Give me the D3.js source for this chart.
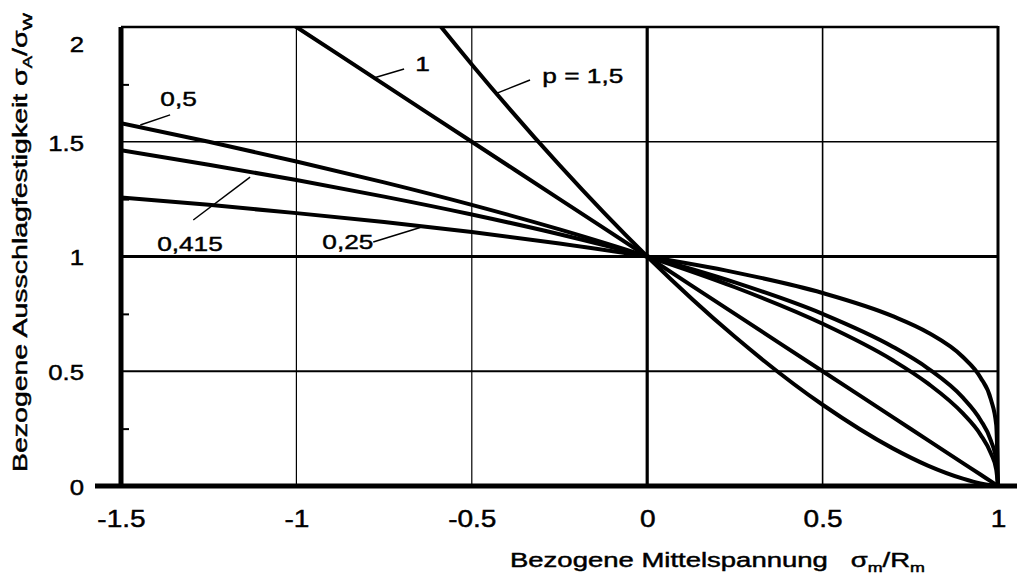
<!DOCTYPE html>
<html>
<head>
<meta charset="utf-8">
<script src="https://cdn.jsdelivr.net/npm/d3@7"></script>
<style>
  html, body { margin: 0; padding: 0; background: #fff; }
  svg { display: block; }
  text { font-family: "Liberation Sans", Arial, Helvetica, sans-serif; fill: #000; stroke: #000; stroke-width: 0.45px; }
</style>
</head>
<body>
<script>
// Relative mean stress sigma_m / R_m (x) and amplitude ratio sigma_A / sigma_W per exponent p
const sigmaM   = [-1.5, -1.25, -1, -0.75, -0.5, -0.25, 0, 0.25, 0.5, 0.7, 0.8, 0.9, 0.95, 0.98, 0.995, 1];
const ampP025  = [1.257, 1.225, 1.189, 1.150, 1.107, 1.057, 1, 0.931, 0.841, 0.740, 0.669, 0.562, 0.473, 0.376, 0.266, 0];
const ampP0415 = [1.463, 1.400, 1.333, 1.261, 1.183, 1.097, 1, 0.887, 0.750, 0.607, 0.513, 0.385, 0.288, 0.197, 0.111, 0];
const ampP05   = [1.581, 1.500, 1.414, 1.323, 1.225, 1.118, 1, 0.866, 0.707, 0.548, 0.447, 0.316, 0.224, 0.141, 0.071, 0];
const ampP1    = [2.5, 2.25, 2, 1.75, 1.5, 1.25, 1, 0.75, 0.5, 0.3, 0.2, 0.1, 0.05, 0.02, 0.005, 0];
const ampP15   = [3.953, 3.375, 2.828, 2.315, 1.837, 1.398, 1, 0.650, 0.354, 0.164, 0.089, 0.032, 0.011, 0.003, 0.0004, 0];

const seriesNames = ["0,25", "0,415", "0,5", "1", "p = 1,5"];
const seriesValues = [ampP025, ampP0415, ampP05, ampP1, ampP15];

const xTicks = [-1.5, -1, -0.5, 0, 0.5, 1];
const xTickLabels = ["-1.5", "-1", "-0.5", "0", "0.5", "1"];
const yTicks = [0, 0.5, 1, 1.5, 2];
const yTickLabels = ["0", "0.5", "1", "1.5", "2"];
const yMinorTicks = [0.25, 0.75, 1.25, 1.75];
const xGrid = [-1, -0.5, 0, 0.5];
const yGrid = [0.5, 1, 1.5];

// Label placement (data coordinates): text anchor, leader start, leader end
const labelLayout = {
  "0,5":     { t: [-1.388, 1.656], a: [-1.445, 1.573], b: [-1.36, 1.617] },
  "0,415":   { t: [-1.397, 1.024], a: [-1.294, 1.159], b: [-1.132, 1.346] },
  "0,25":    { t: [-0.926, 1.033], a: [-0.781, 1.063], b: [-0.647, 1.126] },
  "1":       { t: [-0.661, 1.808], a: [-0.775, 1.780], b: [-0.693, 1.817] },
  "p = 1,5": { t: [-0.299, 1.756], a: [-0.428, 1.712], b: [-0.334, 1.769] }
};

const W = 1017, H = 581;
const svg = d3.select("body").append("svg").attr("width", W).attr("height", H);

const x = d3.scaleLinear().domain([-1.5, 1]).range([121, 998]);
const y = d3.scaleLinear().domain([0, 2]).range([486, 27]);

const xStretch = 1.22;

// grid
const gx = { "-1": 1.2, "-0.5": 1.2, "0": 3.2, "0.5": 1.6 };
const gy = { "0.5": 2, "1": 3, "1.5": 1.6 };
svg.append("g").selectAll("line").data(xGrid).join("line")
  .attr("x1", d => x(d)).attr("x2", d => x(d))
  .attr("y1", y(0)).attr("y2", y(2))
  .attr("stroke", "#000").attr("stroke-width", d => gx[String(d)]);
svg.append("g").selectAll("line").data(yGrid).join("line")
  .attr("x1", x(-1.5)).attr("x2", x(1))
  .attr("y1", d => y(d)).attr("y2", d => y(d))
  .attr("stroke", "#000").attr("stroke-width", d => gy[String(d)]);

// frame: top and right
svg.append("line").attr("x1", x(-1.5)).attr("x2", x(1)).attr("y1", y(2)).attr("y2", y(2))
  .attr("stroke", "#000").attr("stroke-width", 2.6);
svg.append("line").attr("x1", x(1)).attr("x2", x(1)).attr("y1", y(0)).attr("y2", y(2) - 1)
  .attr("stroke", "#000").attr("stroke-width", 3);

// curves
svg.append("defs").append("clipPath").attr("id", "plotClip")
  .append("rect").attr("x", x(-1.5)).attr("y", y(2)).attr("width", x(1) - x(-1.5) + 2).attr("height", y(0) - y(2));

const line = d3.line()
  .x((d, i) => x(sigmaM[i]))
  .y(d => y(d))
  .curve(d3.curveMonotoneX);

svg.append("g").attr("clip-path", "url(#plotClip)")
  .selectAll("path").data(seriesValues).join("path")
  .attr("d", d => line(d))
  .attr("fill", "none").attr("stroke", "#000").attr("stroke-width", 4)
  .attr("stroke-linejoin", "round");

// axes lines (thick)
svg.append("line").attr("x1", x(-1.5)).attr("x2", x(-1.5)).attr("y1", y(2)).attr("y2", y(0) + 2)
  .attr("stroke", "#000").attr("stroke-width", 5);
svg.append("line").attr("x1", 95).attr("x2", W).attr("y1", y(0)).attr("y2", y(0))
  .attr("stroke", "#000").attr("stroke-width", 5);

// minor ticks on y axis
const minor = svg.append("g").attr("transform", `translate(${x(-1.5)},0)`)
  .call(d3.axisLeft(y).tickValues(yMinorTicks).tickSize(-8).tickFormat(""));
minor.select(".domain").remove();
minor.selectAll("line").attr("stroke", "#000").attr("stroke-width", 2);

// x tick labels
const xa = svg.append("g").attr("transform", `translate(0,${y(0)})`)
  .call(d3.axisBottom(x).tickValues(xTicks).tickSize(0).tickFormat((d, i) => xTickLabels[i]));
xa.select(".domain").remove();
xa.selectAll("text")
  .attr("y", 0).attr("dy", 0)
  .attr("transform", `translate(0,41) scale(${xStretch},1)`)
  .style("font-size", "23px").style("font-family", "'Liberation Sans', Arial, sans-serif");

// y tick labels
const ya = svg.append("g").attr("transform", `translate(${x(-1.5)},0)`)
  .call(d3.axisLeft(y).tickValues(yTicks).tickSize(0).tickFormat((d, i) => yTickLabels[i]));
ya.select(".domain").remove();
ya.selectAll("text")
  .attr("x", 0).attr("dy", d => d === 2 ? "1.05em" : "0.36em")
  .attr("transform", `translate(-37,0) scale(1.12,1)`)
  .style("font-size", "23px").style("font-family", "'Liberation Sans', Arial, sans-serif");

// curve labels with leaders
const lab = svg.append("g");
seriesNames.forEach(name => {
  const L = labelLayout[name];
  lab.append("line")
    .attr("x1", x(L.a[0])).attr("y1", y(L.a[1]))
    .attr("x2", x(L.b[0])).attr("y2", y(L.b[1]))
    .attr("stroke", "#000").attr("stroke-width", 1.5);
  lab.append("text")
    .attr("transform", `translate(${x(L.t[0])},${y(L.t[1])}) scale(1.25,1)`)
    .style("font-size", "21px")
    .text(name);
});

// x axis title
const xt = svg.append("text")
  .attr("x", 510).attr("y", 567)
  .attr("textLength", 415).attr("lengthAdjust", "spacingAndGlyphs")
  .style("font-size", "20px");
xt.append("tspan").text("Bezogene Mittelspannung\u00A0\u00A0 σ");
xt.append("tspan").attr("dy", 5).style("font-size", "13px").text("m");
xt.append("tspan").attr("dy", -5).text("/R");
xt.append("tspan").attr("dy", 5).style("font-size", "13px").text("m");

// y axis title
const yt = svg.append("text")
  .attr("transform", "translate(27,472) rotate(-90)")
  .attr("textLength", 459).attr("lengthAdjust", "spacingAndGlyphs")
  .style("font-size", "20px");
yt.append("tspan").text("Bezogene Ausschlagfestigkeit σ");
yt.append("tspan").attr("dy", 5).style("font-size", "13px").text("A");
yt.append("tspan").attr("dy", -5).text("/σ");
yt.append("tspan").attr("dy", 5).style("font-size", "13px").text("W");
</script>
</body>
</html>
